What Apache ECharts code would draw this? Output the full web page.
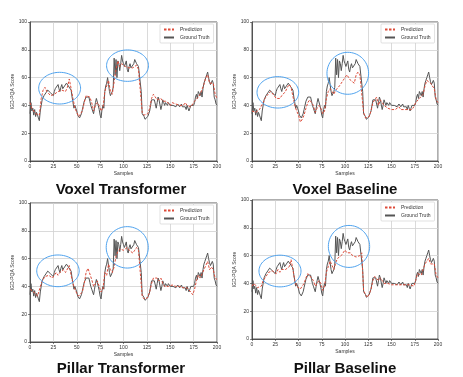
<!DOCTYPE html>
<html>
<head>
<meta charset="utf-8">
<script src="https://cdn.jsdelivr.net/npm/echarts@6/dist/echarts.min.js"></script>
<style>html,body{margin:0;padding:0;background:#fff}#c{width:463px;height:377px}</style>
</head>
<body>
<div id="c"></div>
<script>
// ---- Data ----
const panelTitles = ['Voxel Transformer', 'Voxel Baseline', 'Pillar Transformer', 'Pillar Baseline'];
const xTicks = [0, 25, 50, 75, 100, 125, 150, 175, 200];
const yTicks = [0, 20, 40, 60, 80, 100];

// Ground truth, one value per sample (0..200)
const groundTruth = [
  34,42,36,38,33,37,32,35,33,31, 29,36,40,44,43,47,46,49,48,51,
  52,51,49,50,48,47,50,52,51,53, 55,52,50,53,55,52,51,54,53,56,
  55,54,53,55,51,46,42,38,40,38, 36,33,32,31,32,34,37,40,43,44,
  46,47,47,46,43,40,38,36,34,38, 42,45,44,40,37,33,31,37,40,38,
  50,54,56,60,55,50,47,46,50,53, 74,62,73,60,72,70,65,70,76,72,
  70,68,67,72,66,64,68,70,67,66, 68,70,73,72,70,69,68,68,67,50,
  34,33,32,30,29,30,32,34,36,40, 44,45,43,44,41,38,42,46,44,43,
  37,40,44,42,40,42,41,40,42,41, 40,41,40,40,41,40,39,40,41,40,
  39,40,41,39,38,40,39,37,40,38, 36,38,40,41,39,40,42,46,48,45,
  50,49,47,50,46,52,56,58,60,62, 64,60,57,55,54,58,56,46,44,41,
  40
];

// Predictions, one value every 2 samples (0,2,...,200)
const predVoxelTransformer = [
  42,38,36,34,35,33,45,51,53,50, 50,47,46,48,48,50,50,51,52,50,
  53,59,52,45,38,35,32,32,36,42, 47,48,46,42,36,40,42,40,36,38,
  50,54,58,50,48,57,66,72,68,70, 70,68,69,67,66,67,68,69,66,65,
  35,33,32,34,38,45,48,47,44,44, 45,43,42,43,42,40,42,42,41,42,
  40,41,40,42,40,40,39,38,43,44, 46,48,47,55,60,62,56,57,56,48,
  45
];
const predVoxelBaseline = [
  36,37,35,36,37,38,42,45,47,48, 50,49,47,45,46,45,47,48,50,53,
  55,53,52,40,36,33,28,30,33,38, 42,44,42,40,35,38,40,38,34,36,
  45,50,52,50,48,51,52,54,56,58, 60,62,60,58,57,56,62,64,62,63,
  35,31,30,32,36,42,44,46,40,44, 42,40,40,38,39,37,38,37,38,39,
  37,38,37,38,37,38,37,39,42,43, 45,44,48,54,58,59,56,55,52,44,
  42
];
const predPillarTransformer = [
  38,37,36,35,33,34,42,45,47,48, 48,47,46,47,50,48,50,49,52,50,
  51,55,48,42,38,35,33,32,36,42, 50,53,52,45,40,42,44,40,36,38,
  50,48,56,52,50,54,62,65,67,68, 66,67,68,66,65,64,66,68,66,65,
  33,31,30,32,36,42,46,47,46,44, 46,42,40,41,40,40,41,40,40,41,
  40,40,39,38,39,38,36,34,38,44, 48,46,45,52,55,58,52,54,52,46,
  45
];
const predPillarBaseline = [
  38,40,39,37,36,38,42,44,46,48, 48,49,48,47,50,48,50,51,50,49,
  52,57,50,42,38,37,36,36,40,44, 47,47,44,42,38,40,42,40,35,38,
  48,52,56,53,50,55,58,58,60,62, 64,62,63,62,60,61,59,58,60,62,
  35,32,30,32,36,42,45,46,42,44, 42,40,41,40,40,39,40,39,40,39,
  38,39,38,39,40,39,40,38,42,47, 48,46,47,54,56,58,54,55,54,46,
  44
];
const predictions = [predVoxelTransformer, predVoxelBaseline, predPillarTransformer, predPillarBaseline];

// Highlight ellipses per panel: [centerSample, centerScore, radiusSamples, radiusScore]
const ellipses = [
  [[31.7, 52.4, 22.4, 11.4], [104.3, 68.6, 22.4, 11.3]],
  [[27.8, 49.4, 22.4, 11.3], [103.0, 63.1, 22.4, 15.1]],
  [[29.9, 51.2, 22.7, 11.4], [104.0, 68.1, 22.5, 14.9]],
  [[30.1, 48.9, 22.6, 11.4], [104.3, 66.6, 22.2, 15.1]]
];

// ---- Layout / style ----
const grids = [
  {left: 30, top: 22, width: 187, height: 139},
  {left: 252, top: 22, width: 186, height: 139},
  {left: 30, top: 203, width: 187, height: 139},
  {left: 252, top: 200, width: 186, height: 139}
];
const titlePos = [[121, 190], [345, 190], [121, 369], [345, 369]];
const FONT = 'Liberation Sans, Arial, sans-serif';
const PRED_COLOR = '#dd4b39';
const GT_COLOR = '#555555';
const ELL_COLOR = '#4fa3ef';

const gtPairs = groundTruth.map((v, i) => [i, v]);

const option = {
  animation: false,
  backgroundColor: '#fff',
  grid: [], xAxis: [], yAxis: [], series: [], legend: [], graphic: []
};

grids.forEach((g, k) => {
  option.grid.push(Object.assign({show: true, borderColor: '#333', borderWidth: 0.8, backgroundColor: 'transparent'}, g));
  option.xAxis.push({
    type: 'value', gridIndex: k, min: 0, max: 200, interval: 25,
    name: 'Samples', nameLocation: 'middle', nameGap: 10,
    nameTextStyle: {fontSize: 5, color: '#333', fontFamily: FONT},
    axisLine: {show: true, lineStyle: {color: '#333', width: 0.8}},
    axisTick: {show: true, length: 2, lineStyle: {color: '#333', width: 0.6}},
    axisLabel: {fontSize: 5, color: '#333', margin: 3, fontFamily: FONT},
    splitLine: {show: true, lineStyle: {color: '#d0d0d0', width: 0.8}}
  });
  option.yAxis.push({
    type: 'value', gridIndex: k, min: 0, max: 100, interval: 20,
    name: 'IGD-PQA Score', nameLocation: 'middle', nameGap: 13,
    nameTextStyle: {fontSize: 5, color: '#333', fontFamily: FONT},
    axisLine: {show: true, lineStyle: {color: '#333', width: 0.8}},
    axisTick: {show: true, length: 2, lineStyle: {color: '#333', width: 0.6}},
    axisLabel: {fontSize: 5, color: '#333', margin: 3, fontFamily: FONT},
    splitLine: {show: true, lineStyle: {color: '#d0d0d0', width: 0.8}}
  });
  const predPairs = predictions[k].map((v, i) => [i * 2, v]);
  option.series.push({
    name: 'Prediction', type: 'line', xAxisIndex: k, yAxisIndex: k,
    data: predPairs, showSymbol: false, symbol: 'none', z: 3,
    lineStyle: {color: PRED_COLOR, width: 1, type: [2.5, 1.5]},
    itemStyle: {color: PRED_COLOR}
  });
  option.series.push({
    name: 'Ground Truth', type: 'line', xAxisIndex: k, yAxisIndex: k,
    data: gtPairs, showSymbol: false, symbol: 'none', z: 2,
    lineStyle: {color: GT_COLOR, width: 1},
    itemStyle: {color: GT_COLOR}
  });
  option.series.push({
    type: 'custom', xAxisIndex: k, yAxisIndex: k, z: 5, silent: true, clip: false,
    data: ellipses[k],
    encode: {x: 0, y: 1},
    renderItem: function (params, api) {
      const cx = api.value(0), cy = api.value(1), rx = api.value(2), ry = api.value(3);
      const pts = [];
      for (let t = 0; t <= 72; t++) {
        const a = t / 72 * Math.PI * 2;
        pts.push(api.coord([cx + rx * Math.cos(a), cy + ry * Math.sin(a)]));
      }
      return {type: 'polyline', shape: {points: pts}, style: {fill: null, stroke: ELL_COLOR, lineWidth: 1}};
    }
  });
  option.legend.push({
    data: ['Prediction', 'Ground Truth'],
    orient: 'vertical',
    left: g.left + g.width - 57, top: g.top + 2,
    itemWidth: 10, itemHeight: 4, itemGap: 3,
    padding: [3, 4, 3, 3],
    borderColor: '#cccccc', borderWidth: 0.6, borderRadius: 1,
    backgroundColor: '#fff',
    selectedMode: false,
    itemStyle: {opacity: 0},
    textStyle: {fontSize: 5, color: '#333', fontFamily: FONT, padding: [0, 0, 0, 1]}
  });
  option.graphic.push({
    type: 'text', x: titlePos[k][0], y: titlePos[k][1],
    style: {text: panelTitles[k], fontSize: 15, fontWeight: 'bold', fontFamily: FONT,
            fill: '#111', align: 'center', verticalAlign: 'middle'}
  });
});

const chart = echarts.init(document.getElementById('c'), null, {renderer: 'canvas'});
chart.setOption(option);
</script>
</body>
</html>
